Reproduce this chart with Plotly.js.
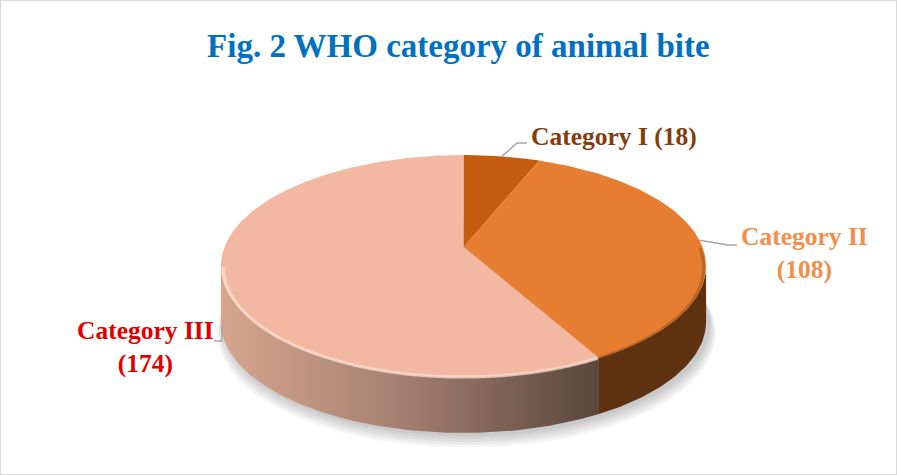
<!DOCTYPE html>
<html>
<head>
<meta charset="utf-8">
<script src="https://cdn.plot.ly/plotly-3.0.1.min.js"></script>
<style>
  html, body { margin: 0; padding: 0; background: #fff; }
  #chart { width: 897px; height: 475px; }
</style>
</head>
<body>
<div id="chart"></div>
<script>
// data
var categories = ['Category I', 'Category II', 'Category III'];
var counts = [18, 108, 174];
var topColors = ['#C55A11', '#E77D31', '#F2B8A2'];
var labelColors = ['#843C0C', '#EF8F4B', '#E00000'];

// label placement (pixel space of the plot)
var labelPos = [[614, 136], [804, 253], [145, 347]];
var labelBreak = [false, true, true];
var leaderElbow = [[517, 143], [728, 245], [222, 341]];
var leaderEnd = [[527, 143], [737, 245], [214, 341]];

// perspective disc geometry
var cx = 463.5, cy = 247, A = 239, B = 107.7, K = 0.171, T = 56;
var visFrom = 90 + Math.asin(K) * 180 / Math.PI;
var visTo = 270 - Math.asin(K) * 180 / Math.PI;

function proj(deg, drop, scale) {
	var s = scale || 1;
	var th = deg * Math.PI / 180;
	var u = Math.sin(th), v = Math.cos(th);
	var d = 1 + K * v;
	return [cx + s * A * u / d, cy - s * B * v / d + (drop || 0)];
}

function arc(a0, a1, drop, scale) {
	var n = Math.max(2, Math.ceil(Math.abs(a1 - a0)));
	var pts = [];
	for (var i = 0; i <= n; i++) {
		pts.push(proj(a0 + (a1 - a0) * i / n, drop, scale));
	}
	return pts;
}

function poly(pts, extra) {
	var tr = {
		x: pts.map(function (p) { return p[0]; }),
		y: pts.map(function (p) { return p[1]; }),
		type: 'scatter', mode: 'lines', fill: 'toself',
		line: {width: 0}, hoverinfo: 'skip'
	};
	for (var k in extra) tr[k] = extra[k];
	return tr;
}

var total = counts.reduce(function (a, b) { return a + b; });
var starts = [], ends = [];
var acc = 0;
for (var i = 0; i < counts.length; i++) {
	starts.push(acc / total * 360);
	acc += counts[i];
	ends.push(acc / total * 360);
}

var traces = [];

// soft shadow under the disc
for (var s = 0; s < 5; s++) {
	var sh = arc(0, 360, T + 3 + s * 2, 1.004 + s * 0.006).map(function (p) { return [p[0] + 3, p[1]]; });
	traces.push(poly(sh, {fillcolor: 'rgba(0,0,0,0.045)'}));
}

// side walls (front half only)
var wallColors = [
	{fillcolor: '#8A4415'},
	{fillcolor: '#5E3110'},
	{fillcolor: '#B88A77', fillgradient: {type: 'horizontal', colorscale: [[0, '#D6A58F'], [0.45, '#A88272'], [1, '#5A463D']]}}
];
for (var i = 0; i < counts.length; i++) {
	var a0 = Math.max(starts[i], visFrom), a1 = Math.min(ends[i], visTo);
	if (a1 <= a0) continue;
	var topEdge = arc(a0, a1, 0);
	var botEdge = arc(a1, a0, T);
	traces.push(poly(topEdge.concat(botEdge), wallColors[i]));
}

// top faces
for (var i = 0; i < counts.length; i++) {
	var pts = [[cx, cy]].concat(arc(starts[i], ends[i], 0));
	pts.push([cx, cy]);
	traces.push(poly(pts, {fillcolor: topColors[i]}));
}

// rim shading on the top face edge
for (var i = 0; i < counts.length; i++) {
	var a0 = Math.max(starts[i], visFrom - 10), a1 = Math.min(ends[i], visTo);
	if (a1 <= a0) continue;
	var rim = arc(a0, a1, 1.5, 0.99);
	traces.push({
		x: rim.map(function (p) { return p[0]; }), y: rim.map(function (p) { return p[1]; }),
		type: 'scatter', mode: 'lines', hoverinfo: 'skip',
		line: {width: 3, color: i === 2 ? 'rgba(255,226,212,0.75)' : 'rgba(120,55,10,0.35)', shape: 'spline'}
	});
}

// leader lines
var mids = starts.map(function (a, i) { return (a + ends[i]) / 2; });
for (var i = 0; i < counts.length; i++) {
	var m = mids[i];
	var onWall = m > visFrom + 60 && m < visTo;
	var p0 = proj(m, onWall ? T * 0.9 : 0);
	traces.push({
		x: [p0[0], leaderElbow[i][0], leaderEnd[i][0]],
		y: [p0[1], leaderElbow[i][1], leaderEnd[i][1]],
		type: 'scatter', mode: 'lines', hoverinfo: 'skip',
		line: {width: 1.5, color: '#A5A5A5'}
	});
}

var annotations = categories.map(function (c, i) {
	return {
		x: labelPos[i][0], y: labelPos[i][1], xref: 'x', yref: 'y',
		text: '<b>' + c + (labelBreak[i] ? '<br>' : ' ') + '(' + counts[i] + ')</b>',
		showarrow: false, xanchor: 'center', yanchor: 'middle', align: 'center',
		font: {family: 'Liberation Serif, Times New Roman, serif', size: 25.5, color: labelColors[i]}
	};
});

var layout = {
	width: 897, height: 475,
	margin: {l: 0, r: 0, t: 0, b: 0},
	paper_bgcolor: '#ffffff', plot_bgcolor: '#ffffff',
	showlegend: false, hovermode: false,
	title: {
		text: '<b>Fig. 2 WHO category of animal bite</b>',
		x: 0.511, xanchor: 'center', y: 1 - 45 / 475, yanchor: 'middle', yref: 'container',
		font: {family: 'Liberation Serif, Times New Roman, serif', size: 33, color: '#0070C0'}
	},
	xaxis: {range: [0, 897], visible: false, fixedrange: true},
	yaxis: {range: [475, 0], visible: false, fixedrange: true},
	annotations: annotations,
	shapes: [{type: 'rect', xref: 'paper', yref: 'paper', x0: 0, x1: 1, y0: 0, y1: 1,
		line: {color: '#D9D9D9', width: 2}}]
};

Plotly.newPlot('chart', traces, layout, {staticPlot: true, displayModeBar: false});
</script>
</body>
</html>
